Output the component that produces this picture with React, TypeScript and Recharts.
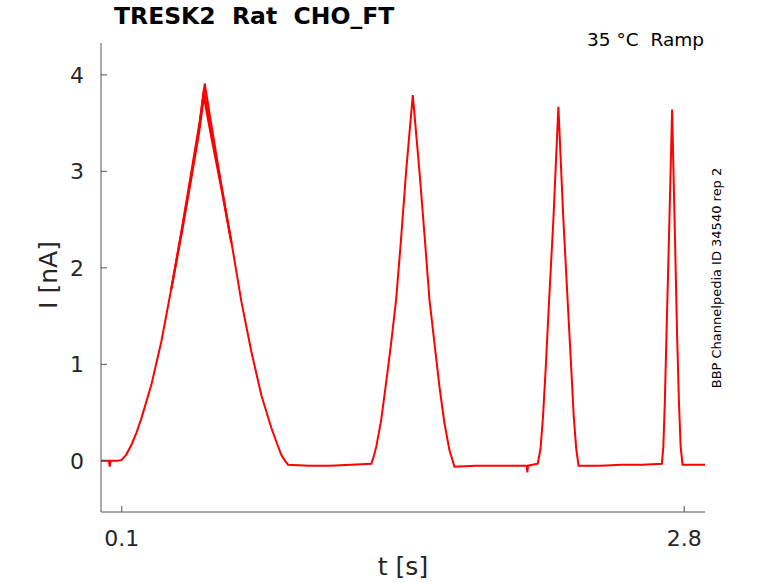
import React from "react";
import { LineChart, Line, XAxis, YAxis } from "recharts";

// full sweep (s, nA)
const time = [
  0, 0.02, 0.038, 0.042, 0.046, 0.06, 0.08, 0.099, 0.12, 0.147, 0.17, 0.194,
  0.242, 0.29, 0.338, 0.386, 0.434, 0.474, 0.498, 0.53, 0.578, 0.626, 0.674,
  0.722, 0.77, 0.818, 0.845, 0.866, 0.884, 0.898, 1.0, 1.1, 1.2, 1.298, 1.31,
  1.322, 1.345, 1.369, 1.393, 1.417, 1.44, 1.465, 1.497, 1.529, 1.553, 1.577,
  1.601, 1.625, 1.649, 1.673, 1.686, 1.697, 1.8, 1.9, 2.0, 2.044, 2.047, 2.05,
  2.097, 2.11, 2.122, 2.135, 2.15, 2.172, 2.196, 2.22, 2.242, 2.258, 2.27,
  2.282, 2.293, 2.4, 2.5, 2.6, 2.693, 2.7, 2.707, 2.715, 2.728, 2.742, 2.755,
  2.766, 2.775, 2.783, 2.792, 2.85, 2.9,
];
const current = [
  0.0, 0.0, 0.0, -0.06, 0.0, 0.0, 0.0, 0.01, 0.06, 0.17, 0.29, 0.44, 0.79,
  1.24, 1.79, 2.38, 3.0, 3.52, 3.91, 3.48, 2.86, 2.27, 1.65, 1.13, 0.68, 0.34,
  0.18, 0.06, 0.0, -0.04, -0.05, -0.05, -0.04, -0.03, 0.05, 0.15, 0.42, 0.81,
  1.22, 1.67, 2.28, 3.0, 3.79, 3.0, 2.35, 1.67, 1.22, 0.77, 0.39, 0.11, 0.02,
  -0.06, -0.05, -0.05, -0.05, -0.05, -0.12, -0.05, -0.03, 0.12, 0.45, 0.95,
  1.6, 2.5, 3.67, 2.5, 1.6, 0.95, 0.45, 0.12, -0.05, -0.05, -0.04, -0.04,
  -0.03, 0.15, 0.6, 1.3, 2.4, 3.64, 2.4, 1.3, 0.6, 0.15, -0.04, -0.04, -0.04,
];

// repeat sweeps, only visibly different around the first peak
const peakTime = [0.338, 0.386, 0.434, 0.471, 0.494, 0.528, 0.578, 0.626];
const sweep2 = [1.79, 2.36, 2.96, 3.45, 3.84, 3.42, 2.84, 2.26];
const sweep3 = [1.78, 2.34, 2.93, 3.4, 3.77, 3.37, 2.82, 2.26];

const xTicks = [0.1, 2.8];
const yTicks = [0, 1, 2, 3, 4];

const font = "'DejaVu Sans', sans-serif";
const textColor = "#262626";
const axisColor = "#555";

const XTick = ({ x, y, payload }: any) => (
  <g>
    <line x1={x} y1={y} x2={x} y2={y - 6} stroke={axisColor} />
    <text x={x} y={y + 34} textAnchor="middle" fill={textColor} fontSize={22} fontFamily={font}>
      {payload.value}
    </text>
  </g>
);

const YTick = ({ x, y, payload }: any) => (
  <g>
    <line x1={x} y1={y} x2={x + 6} y2={y} stroke={axisColor} />
    <text x={x - 17} y={y + 8} textAnchor="end" fill={textColor} fontSize={22} fontFamily={font}>
      {payload.value}
    </text>
  </g>
);

const App = () => {
  const main = time.map((t, k) => ({ t, i: current[k] }));
  const s2 = peakTime.map((t, k) => ({ t, i: sweep2[k] }));
  const s3 = peakTime.map((t, k) => ({ t, i: sweep3[k] }));

  return (
    <div style={{ position: "absolute", left: 0, top: 0, width: 778, height: 583, background: "#fff", fontFamily: font }}>
      <LineChart width={778} height={583} margin={{ top: 43, right: 73, left: 41, bottom: 21 }}>
        <XAxis
          type="number"
          dataKey="t"
          domain={[0, 2.9]}
          ticks={xTicks}
          allowDataOverflow
          height={50}
          tickSize={0}
          tickMargin={0}
          tickLine={false}
          tick={XTick}
          stroke={axisColor}
        />
        <YAxis
          type="number"
          dataKey="i"
          domain={[-0.53, 4.33]}
          ticks={yTicks}
          allowDataOverflow
          width={60}
          tickSize={0}
          tickMargin={0}
          tickLine={false}
          tick={YTick}
          stroke={axisColor}
        />
        <Line data={s3} dataKey="i" type="linear" stroke="#ff0000" strokeWidth={2} dot={false} isAnimationActive={false} />
        <Line data={s2} dataKey="i" type="linear" stroke="#ff0000" strokeWidth={2} dot={false} isAnimationActive={false} />
        <Line data={main} dataKey="i" type="linear" stroke="#ff0000" strokeWidth={2} dot={false} isAnimationActive={false} />
      </LineChart>
      <div style={{ position: "absolute", left: 114, top: 2, fontSize: 23.5, fontWeight: "bold", color: "#000", whiteSpace: "pre" }}>
        TRESK2  Rat  CHO_FT
      </div>
      <div style={{ position: "absolute", right: 74, top: 29, fontSize: 18.5, color: "#000", whiteSpace: "pre" }}>
        35 °C  Ramp
      </div>
      <div
        style={{
          position: "absolute",
          left: 716,
          top: 278,
          fontSize: 13,
          color: "#000",
          whiteSpace: "pre",
          transform: "translate(-50%, -50%) rotate(-90deg)",
        }}
      >
        BBP Channelpedia ID 34540 rep 2
      </div>
      <div
        style={{
          position: "absolute",
          left: 48,
          top: 275,
          fontSize: 25,
          color: textColor,
          whiteSpace: "pre",
          transform: "translate(-50%, -50%) rotate(-90deg)",
        }}
      >
        I [nA]
      </div>
      <div style={{ position: "absolute", left: 403, top: 566, fontSize: 25, color: textColor, transform: "translate(-50%, -50%)" }}>
        t [s]
      </div>
    </div>
  );
};

export default App;
